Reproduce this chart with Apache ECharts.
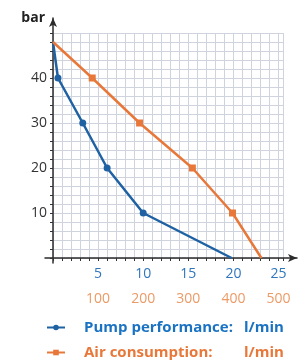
<!DOCTYPE html>
<html>
<head>
<meta charset="utf-8">
<script src="https://cdn.jsdelivr.net/npm/echarts@6/dist/echarts.min.js"></script>
<style>
    html, body {margin: 0; padding: 0; background: #fff;}
    #chart {width: 302px; height: 360px;}
</style>
</head>
<body>
<div id="chart"></div>
<script>
// pump curve: flow in l/min (bottom blue scale), pressure in bar
const pumpFlow = [0, 0.55, 3.3, 6.0, 10.0, 19.8];
const pumpBar = [48, 40, 30, 20, 10, 0];
// air consumption in l/min (bottom orange scale)
const airFlow = [0, 87, 192, 309, 398, 462];
const airBar = [48, 40, 30, 20, 10, 0];

const BLUE = '#1f62a3';
const ORANGE = '#e8783a';
const FONT = '"Open Sans", "Noto Sans", sans-serif';

function pairs(xs, ys) {
    let out = [];
    for (let i = 0; i < xs.length; i++) {
        // no marker on the first and last point
        let p = {value: [xs[i], ys[i]]};
        if (i === 0 || i === xs.length - 1) p.symbol = 'none';
        out.push(p);
    }
    return out;
}

function legendText(color) {
    return {
        rich: {
            n: {color: color, fontSize: 15, fontWeight: 'bold', width: 160, padding: [0, 0, 0, 14], fontFamily: FONT},
            u: {color: color, fontSize: 15, fontWeight: 'bold', fontFamily: FONT}
        }
    };
}

let myChart = echarts.init(document.getElementById('chart'), null, {renderer: 'canvas'});

let option = {
    animation: false,
    textStyle: {fontFamily: FONT},
    grid: [
        {left: 53, right: 19, top: 33, bottom: 102},
        // grid only for the arrowed axes
        {left: 45, right: 5, top: 18, bottom: 97}
    ],
    xAxis: [
        {
            type: 'value', gridIndex: 0, min: 0, max: 25.5, interval: 1,
            axisLine: {show: false},
            axisTick: {show: true, length: 3, lineStyle: {color: '#333'}},
            splitLine: {show: true, lineStyle: {color: '#cfd3dd', width: 1}},
            axisLabel: {
                margin: 9, color: '#2f76bd', fontSize: 14,
                formatter: function (v) { return (v > 0 && v % 5 === 0) ? String(v) : ''; }
            }
        },
        {
            type: 'value', gridIndex: 0, min: 0, max: 510, interval: 20,
            position: 'bottom', offset: 26,
            axisLine: {show: false}, axisTick: {show: false}, splitLine: {show: false},
            axisLabel: {
                color: '#ec9a66', fontSize: 14,
                formatter: function (v) { return (v > 0 && v % 100 === 0) ? String(v) : ''; }
            }
        },
        {
            type: 'value', gridIndex: 1, min: -8 / 9, max: 244 / 9,
            axisLine: {show: true, onZero: true, symbol: ['none', 'arrow'], symbolSize: [6, 9],
                lineStyle: {color: '#2b2b2b', width: 1.5}},
            axisTick: {show: false}, axisLabel: {show: false}, splitLine: {show: false}
        }
    ],
    yAxis: [
        {
            type: 'value', gridIndex: 0, min: 0, max: 50, interval: 2,
            axisLine: {show: false},
            axisTick: {show: true, length: 3, lineStyle: {color: '#333'}},
            splitLine: {show: true, lineStyle: {color: '#cfd3dd', width: 1}},
            axisLabel: {
                margin: 6, color: '#333', fontSize: 14,
                formatter: function (v) { return (v > 0 && v < 50 && v % 10 === 0) ? String(v) : ''; }
            }
        },
        {
            type: 'value', gridIndex: 1, min: -5 / 4.5, max: 240 / 4.5,
            name: 'bar', nameLocation: 'end', nameGap: 0,
            nameTextStyle: {color: '#222', fontSize: 14, fontWeight: 'bold', align: 'right',
                verticalAlign: 'middle', padding: [0, 8, 0, 0]},
            axisLine: {show: true, onZero: true, symbol: ['none', 'arrow'], symbolSize: [6, 9],
                lineStyle: {color: '#2b2b2b', width: 1.5}},
            axisTick: {show: false}, axisLabel: {show: false}, splitLine: {show: false}
        }
    ],
    legend: [
        {
            left: 41, top: 315, itemWidth: 18, itemHeight: 7,
            data: ['Pump performance:'],
            formatter: function (name) { return '{n|' + name + '}{u|l/min}'; },
            textStyle: legendText('#1a72c2')
        },
        {
            left: 41, top: 340, itemWidth: 18, itemHeight: 7,
            data: ['Air consumption:'],
            formatter: function (name) { return '{n|' + name + '}{u|l/min}'; },
            textStyle: legendText(ORANGE)
        }
    ],
    series: [
        {
            name: 'Pump performance:', type: 'line', xAxisIndex: 0, yAxisIndex: 0,
            data: pairs(pumpFlow, pumpBar),
            symbol: 'circle', symbolSize: 7,
            lineStyle: {color: BLUE, width: 2.5}, itemStyle: {color: BLUE}
        },
        {
            name: 'Air consumption:', type: 'line', xAxisIndex: 1, yAxisIndex: 0,
            data: pairs(airFlow, airBar),
            symbol: 'rect', symbolSize: 7,
            lineStyle: {color: ORANGE, width: 2.5}, itemStyle: {color: ORANGE}
        }
    ]
};

myChart.setOption(option, true);
</script>
</body>
</html>
